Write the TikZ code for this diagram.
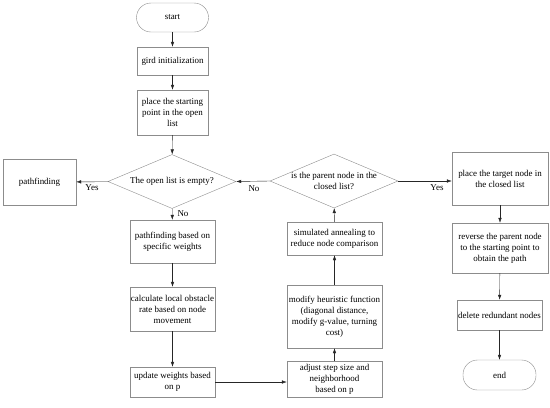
\documentclass[tikz,border=0pt]{standalone}
\usepackage{fontspec}
\setmainfont{Liberation Serif}
\usetikzlibrary{positioning,shapes.geometric,arrows.meta}
\tikzset{blk/.style={draw=black!45,fill=white,align=center,inner sep=1pt,font=\fontsize{9}{11}\selectfont},
  term/.style={blk,rounded corners=14.5bp},
  dec/.style={draw=black!45,diamond,aspect=2.4,inner sep=0pt,align=center,font=\fontsize{9}{11}\selectfont,minimum width=128bp,minimum height=54bp},
  flow/.style={-{Latex[length=5bp,width=3.5bp]},draw=black!85,thin},
  lab/.style={font=\fontsize{9}{11}\selectfont,inner sep=0pt}}

\begin{document}
\begin{tikzpicture}[x=1bp,y=-1bp]
          \useasboundingbox (0,0) rectangle (550,407);

          % left column
          \node (start) [term,minimum width=72bp,minimum height=29bp] at (172.5,17.5) {start};
          \node (init) [blk,minimum width=71bp,minimum height=28bp] at (172.5,61) {gird initialization};
          \node (open) [blk,minimum width=71bp,minimum height=45bp] at (172.5,112.5) {place the starting\\point in the open\\list};
          \node (empty) [dec] at (172,181.5) {The open list is empty?};
          \node (pf) [blk,minimum width=73bp,minimum height=46bp] at (39.5,182) {pathfinding};
          \node (pfw) [blk,minimum width=85bp,minimum height=43bp] at (172.5,241.5) {pathfinding based on\\specific weights};
          \node (rate) [blk,minimum width=85bp,minimum height=44bp] at (172.5,309) {calculate local obstacle\\rate based on node\\movement};
          \node (upd) [blk,minimum width=85bp,minimum height=30bp] at (172.5,382) {update weights based\\on p};

          % middle column
          \node (parent) [dec] at (334,181) {is the parent node in the\\closed list?};
          \node (sa) [blk,minimum width=95bp,minimum height=33bp] at (334.5,238.5) {simulated annealing to\\reduce node comparison};
          \node (heur) [blk,minimum width=95bp,minimum height=63bp] at (334.5,316.5) {modify heuristic function\\(diagonal distance,\\modify g-value, turning\\cost)};
          \node (step) [blk,minimum width=95bp,minimum height=36bp] at (334.5,379) {adjust step size and\\neighborhood\\based on p};

          % right column
          \node (tgt) [blk,minimum width=96bp,minimum height=53bp] at (500,178.5) {place the target node in\\the closed list};
          \node (rev) [blk,minimum width=96bp,minimum height=50bp] at (500,248) {reverse the parent node\\to the starting point to\\obtain the path};
          \node (del) [blk,minimum width=75bp,minimum height=30bp] at (499.5,315) {delete redundant nodes};
          \node (end) [term,minimum width=73bp,minimum height=30bp] at (499.5,375) {end};

          % arrows
          \draw[flow] (start) -- (init);
          \draw[flow] (init) -- (open);
          \draw[flow] (open) -- (empty);
          \draw[flow] (empty) -- (pf);
          \draw[flow] (empty) -- (pfw);
          \draw[flow] (pfw) -- (rate);
          \draw[flow] (rate) -- (upd);
          \draw[flow] (upd.east) -- (upd.east -| step.west);
          \draw[flow] (step) -- (heur);
          \draw[flow] (heur) -- (sa);
          \draw[flow] (sa) -- (parent);
          \draw[flow] (parent.west) -- (empty.east);
          \draw[flow] (parent.east) -- (parent.east -| tgt.west);
          \draw[flow] (tgt) -- (rev);
          \draw[flow] (rev) -- (del);
          \draw[flow] (del) -- (end);

          % labels
          \node[lab] (yes1) at (92,188) {Yes};
          \node[lab] (no1) at (183,213.5) {No};
          \node[lab] (no2) at (254,189) {No};
          \node[lab] (yes2) at (437,188) {Yes};
\end{tikzpicture}
\end{document}
